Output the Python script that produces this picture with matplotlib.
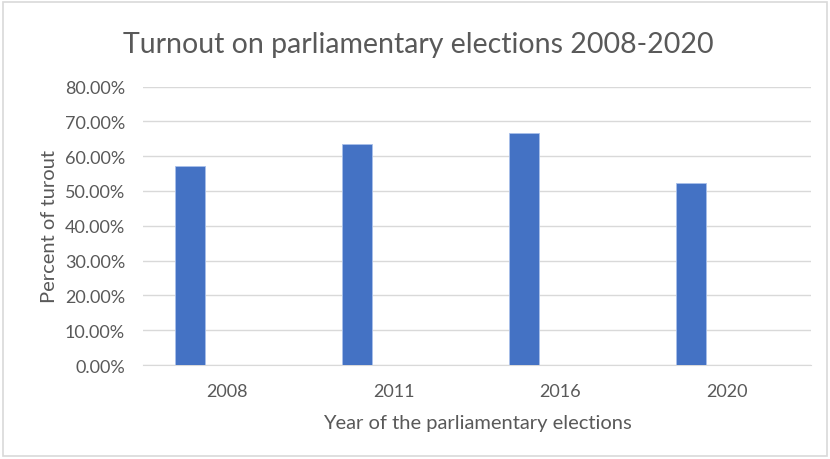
import numpy as np
import matplotlib.pyplot as plt
from matplotlib.ticker import PercentFormatter
from matplotlib.patches import Rectangle

years = ['2008', '2011', '2016', '2020']
turnout = [0.571, 0.634, 0.668, 0.522]

plt.rcParams['font.family'] = ['Lato', 'DejaVu Sans']

fig = plt.figure(figsize=(8.3, 4.6), dpi=100)
fig.patches.append(Rectangle((0.004, 0.006), 0.992, 0.988, transform=fig.transFigure,
                             fill=False, edgecolor='#d9d9d9', linewidth=1.2))
ax = fig.add_axes([0.1723, 0.2043, 0.8047, 0.6053])

x = np.arange(len(years))
ax.bar(x - 0.22, turnout, width=0.18, color='#4472c4', edgecolor='#a9c0ea',
       linewidth=0.6, zorder=3)

ax.set_xlim(-0.5, len(years) - 0.5)
ax.set_ylim(0, 0.8)
ax.set_yticks(np.arange(0, 0.81, 0.1))
ax.yaxis.set_major_formatter(PercentFormatter(1.0, decimals=2))
ax.set_xticks(x)
ax.set_xticklabels(years)

ax.grid(axis='y', color='#d9d9d9', linewidth=1, zorder=0)
for s in ['top', 'right', 'left']:
    ax.spines[s].set_visible(False)
ax.spines['bottom'].set_color('#d9d9d9')
ax.tick_params(axis='both', length=0, colors='#595959', labelsize=13)
ax.tick_params(axis='y', pad=13)
ax.tick_params(axis='x', pad=13)

ax.set_ylabel('Percent of turout', fontsize=14.5, color='#595959', labelpad=5)
ax.set_xlabel('Year of the parliamentary elections', fontsize=14.5, color='#595959', labelpad=11)
fig.text(0.504, 0.902, 'Turnout on parliamentary elections 2008-2020', ha='center', va='center',
         fontsize=20.5, color='#595959')

fig.savefig('out.png', dpi=100)
